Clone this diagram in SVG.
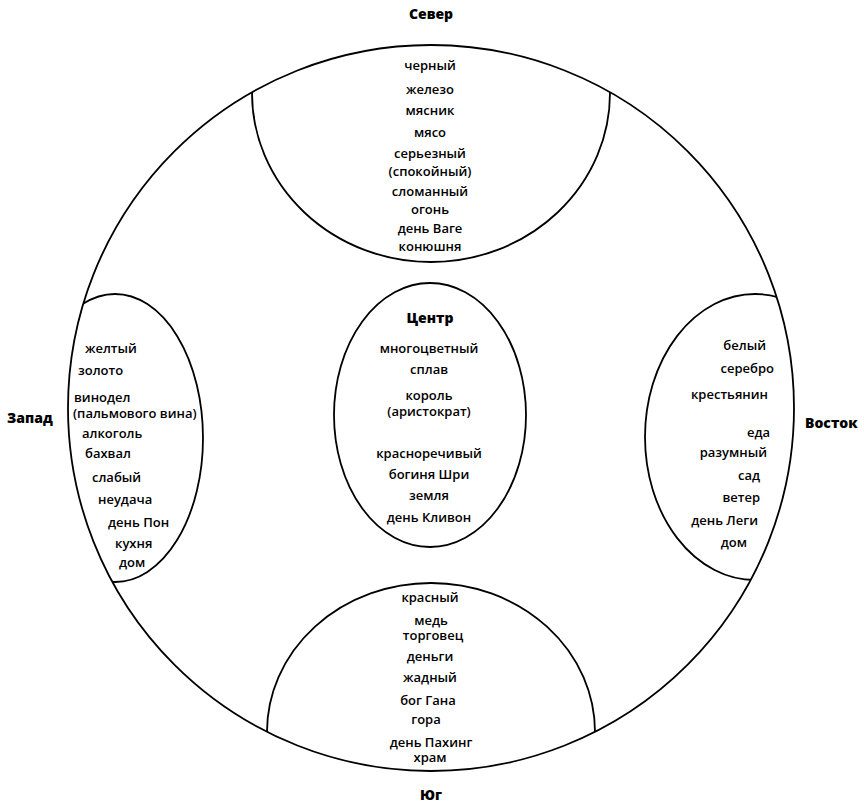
<svg xmlns="http://www.w3.org/2000/svg" width="864" height="806" viewBox="0 0 864 806">
<style>
.ln{fill:none;stroke:#000;stroke-width:1.8}
.t{font-family:"Open Sans","Noto Sans",sans-serif;font-weight:600;font-size:13px;fill:#000}
.m{text-anchor:middle}
.e{text-anchor:end}
.h{font-family:"Open Sans","Noto Sans",sans-serif;font-weight:800;font-size:14px;fill:#000}
</style>
<defs>
<clipPath id="cc"><circle cx="431" cy="408" r="363"/></clipPath>
</defs>
<rect width="864" height="806" fill="#fff"/>
<g id="world">
<circle class="ln" cx="431" cy="408" r="363"/>
</g>
<g id="north">
<ellipse class="ln" cx="431" cy="93" rx="179" ry="169" clip-path="url(#cc)"/>
<g class="t m">
<text x="430" y="70">черный</text>
<text x="430" y="94">железо</text>
<text x="430" y="115">мясник</text>
<text x="430" y="137">мясо</text>
<text x="430" y="158">серьезный</text>
<text x="430" y="176">(спокойный)</text>
<text x="430" y="196">сломанный</text>
<text x="430" y="214">огонь</text>
<text x="430" y="233">день Ваге</text>
<text x="430" y="251">конюшня</text>
</g>
</g>
<g id="west">
<ellipse class="ln" cx="115" cy="438" rx="88" ry="144" clip-path="url(#cc)"/>
<g class="t">
<text x="85" y="353">желтый</text>
<text x="78" y="375">золото</text>
<text x="74" y="402">винодел</text>
<text x="73" y="418">(пальмового вина)</text>
<text x="82" y="438">алкоголь</text>
<text x="85" y="458">бахвал</text>
<text x="92" y="482">слабый</text>
<text x="98" y="504">неудача</text>
<text x="108" y="527">день Пон</text>
<text x="115" y="548">кухня</text>
<text x="119" y="567">дом</text>
</g>
</g>
<g id="center">
<ellipse class="ln" cx="430" cy="415" rx="96" ry="132"/>
<text class="h m" x="430" y="323">Центр</text>
<g class="t m">
<text x="429" y="353">многоцветный</text>
<text x="429" y="374">сплав</text>
<text x="429" y="400">король</text>
<text x="429" y="416">(аристократ)</text>
<text x="429" y="458">красноречивый</text>
<text x="429" y="479">богиня Шри</text>
<text x="429" y="500">земля</text>
<text x="429" y="522">день Кливон</text>
</g>
</g>
<g id="east">
<ellipse class="ln" cx="755" cy="437" rx="110" ry="143" clip-path="url(#cc)"/>
<g class="t e">
<text x="766" y="350">белый</text>
<text x="774" y="373">серебро</text>
<text x="768" y="399">крестьянин</text>
<text x="770" y="437">еда</text>
<text x="767" y="457">разумный</text>
<text x="760" y="480">сад</text>
<text x="760" y="502">ветер</text>
<text x="758" y="525">день Леги</text>
<text x="747" y="547">дом</text>
</g>
</g>
<g id="south">
<ellipse class="ln" cx="431" cy="732" rx="164" ry="149" clip-path="url(#cc)"/>
<g class="t m">
<text x="430" y="602">красный</text>
<text x="431" y="625">медь</text>
<text x="433" y="640">торговец</text>
<text x="430" y="661">деньги</text>
<text x="430" y="682">жадный</text>
<text x="428" y="705">бог Гана</text>
<text x="426" y="724">гора</text>
<text x="431" y="747">день Пахинг</text>
<text x="430" y="762">храм</text>
</g>
</g>
<g id="labels">
<text class="h m" x="431" y="19">Север</text>
<text class="h m" x="431" y="800">Юг</text>
<text class="h" x="7" y="423">Запад</text>
<text class="h" x="805" y="428">Восток</text>
</g>
</svg>
